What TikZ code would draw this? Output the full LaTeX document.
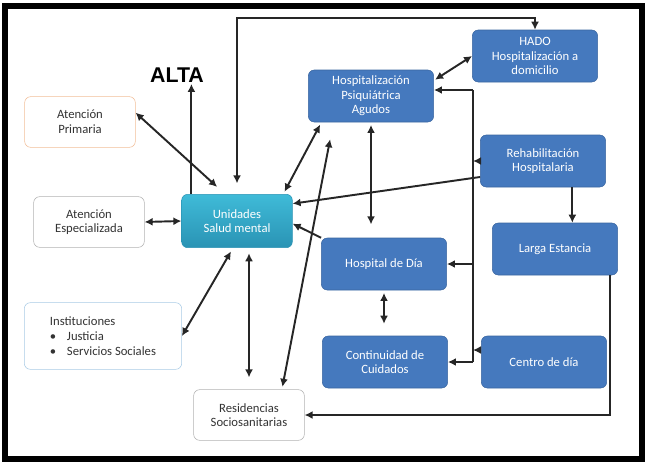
\documentclass[tikz,border=0pt]{standalone}
\usepackage{fontspec}
\setmainfont{Carlito}
\newfontfamily\altafont{Liberation Sans}
\usetikzlibrary{arrows.meta}
\definecolor{hblue}{HTML}{4579BE}
\definecolor{hblueline}{HTML}{3A66A0}
\definecolor{unitop}{HTML}{3FBBD8}
\definecolor{unibot}{HTML}{2A93B4}
\definecolor{primline}{HTML}{F2BE98}
\definecolor{instline}{HTML}{A9CBE6}
\tikzset{
  box/.style={draw, rounded corners=4.5pt, align=center, inner sep=2pt,
    font=\fontsize{9.5}{11}\selectfont},
  bluebox/.style={box, fill=hblue, draw=hblueline, text=white,
    minimum width=94pt, minimum height=39pt},
  whitebox/.style={box, fill=white, draw=gray!60, text=black!80,
    minimum width=83pt, minimum height=38pt},
  link/.style={line width=1.45pt, black!85, >={Latex[length=6pt,width=6pt]}}
}
\begin{document}
\begin{tikzpicture}[x=0.75pt, y=-0.75pt]
\useasboundingbox (0,0) rectangle (648,464);
\draw [line width=4.5pt] (5,6) rectangle (642,459);

\node (alta) [font=\altafont\bfseries\fontsize{16}{18}\selectfont, inner sep=1pt] at (177,75) {ALTA};
\node (prim) [whitebox, draw=primline] at (80,122) {Atención\\Primaria};
\node (esp) [whitebox] at (89,222) {Atención\\Especializada};
\node (inst) [whitebox, draw=instline, align=left, minimum width=118pt, minimum height=50pt] at (103,336)
  {Instituciones\\ \textbullet\hspace{8pt}Justicia\\ \textbullet\hspace{8pt}Servicios Sociales};
\node (resid) [whitebox] at (249,415) {Residencias\\Sociosanitarias};
\node (unid) [box, draw=unibot, top color=unitop, bottom color=unibot, text=white,
  minimum width=83pt, minimum height=40pt] at (237,221) {Unidades\\Salud mental};
\node (hosp) [bluebox] at (371,96) {Hospitalización\\Psiquiátrica\\Agudos};
\node (hado) [bluebox] at (535,56) {HADO\\Hospitalización a\\domicilio};
\node (rehab) [bluebox] at (543,161) {Rehabilitación\\Hospitalaria};
\node (larga) [bluebox] at (555,249) {Larga Estancia};
\node (hdd) [bluebox] at (384,264) {Hospital de Día};
\node (cont) [bluebox] at (385,362) {Continuidad de\\Cuidados};
\node (centro) [bluebox] at (544,362) {Centro de día};

\coordinate (topbend) at (237,18);
\coordinate (bustop) at (473,90);
\coordinate (busbot) at (473,362);

% Unidades
\draw [link,->] ([xshift=7.5pt]unid.north west) -- ([xshift=7.5pt]unid.north west |- alta.south);
\draw [link,<->,shorten <=8pt] (unid.north) -- (topbend) -| (hado.north);
\draw [link,<->,shorten >=8pt] ([yshift=7pt]prim.east) -- ([xshift=-9pt]unid.north);
\draw [link,<->] (esp.east) -- (unid.west);
\draw [link,<->,shorten >=3pt] (inst.east) -- ([xshift=-3pt]unid.south);
\draw [link,<->,shorten <=4pt,shorten >=9pt] (resid.north |- unid.south) -- (resid.north);
\draw [link,<->,shorten <=2pt,shorten >=2pt] ([xshift=10pt]hosp.south west) -- ([xshift=-7pt]unid.north east);
\draw [link,<->,shorten <=2pt,shorten >=13pt] ([xshift=-17pt]resid.north east) -- ([xshift=19pt]hosp.south west);
\draw [link,->] ([yshift=-12pt]rehab.west) -- ([yshift=13pt]unid.east);
\draw [link,->] (hdd.north west) -- ([yshift=-2pt]unid.east);

% hospital
\draw [link,<->,shorten <=2pt,shorten >=10pt] (hosp.south) -- (hosp.south |- hdd.north);
\draw [link,<->,shorten >=1pt] (hado.west) -- ([yshift=-8pt]hosp.north east);
\draw [link] (bustop) -- (busbot);
\draw [link,->] (bustop) -- (bustop -| hosp.east);
\draw [link,->] (rehab.west) -- (rehab.west -| bustop);
\draw [link,->] (hdd.east -| bustop) -- (hdd.east);
\draw [link,->] (busbot) -- (busbot -| cont.east);
\draw [link,->] ([yshift=9pt]centro.west) -- ([yshift=9pt]centro.west -| bustop);
\draw [link,->] ([xshift=13pt]larga.north |- rehab.south) -- ([xshift=13pt]larga.north);
\draw [link,->] ([xshift=-6pt]larga.south east) |- (resid.east);
\draw [link,<->,shorten <=2pt,shorten >=9pt] (hdd.south) -- (hdd.south |- cont.north);
\end{tikzpicture}
\end{document}
